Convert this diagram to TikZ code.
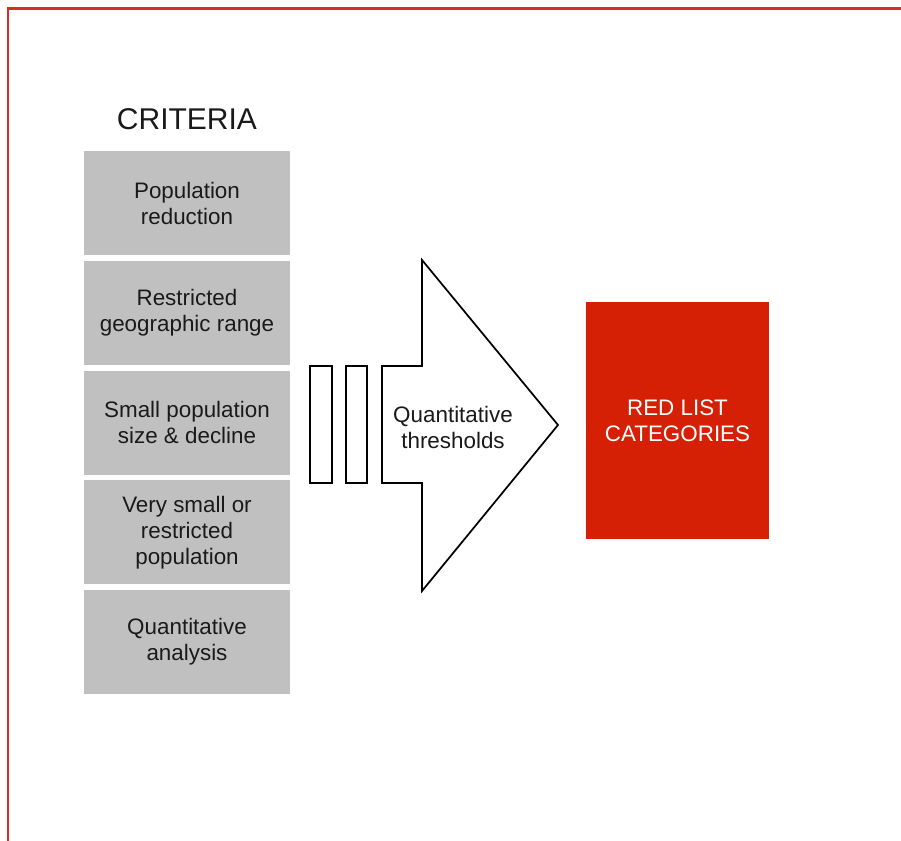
\documentclass[tikz,border=0pt]{standalone}
\usepackage{fontspec}
\setmainfont{Liberation Sans}
\usepackage{tikz}
\usetikzlibrary{calc,positioning,shapes.misc}

\definecolor{frame}{RGB}{218,44,34}
\definecolor{listred}{RGB}{214,32,5}
\definecolor{critgrey}{RGB}{192,192,192}
\definecolor{ink}{RGB}{26,26,26}

\begin{document}
\begin{tikzpicture}[x=0.75pt,y=0.75pt,node distance=3.8pt,line join=miter]
\tikzstyle{critbox}=[fill=critgrey,text=ink,align=center,minimum width=154.5pt,minimum height=78pt,inner sep=0pt,font=\fontsize{16.8}{19.5}\selectfont]
\tikzstyle{outline}=[draw=black,line width=1.3pt,fill=white]
\useasboundingbox (0,0) rectangle (901,-841);
 %frame
 \draw[frame,line width=1.6pt] (8,-841) -- (8,-8.5) -- (901,-8.5);
 %criteria column
 \node[text=ink,font=\fontsize{22.5}{27}\selectfont] at (187,-119.5) (criteria){CRITERIA};
 \node[critbox] at (187,-203.5) (c1){Population\\reduction};
 \node[critbox][below=of c1](c2){Restricted\\geographic range};
 \node[critbox][below=of c2](c3){Small population\\size \& decline};
 \node[critbox][below=of c3](c4){Very small or\\restricted\\population};
 \node[critbox][below=of c4](c5){Quantitative\\analysis};
 %arrow with bars
 \draw[outline] (310,-366) rectangle (332,-483);
 \draw[outline] (346,-366) rectangle (367,-483);
 \draw[outline] (382,-366) -- (422,-366) -- (422,-260) -- (558,-425)
   -- (422,-591) -- (422,-483) -- (382,-483) -- cycle;
 \node[text=ink,align=center,font=\fontsize{16.8}{19.5}\selectfont] at (453,-427) (thresh){Quantitative\\thresholds};
 %categories
 \node[fill=listred,text=white,align=center,minimum width=137.25pt,minimum height=177.75pt,inner sep=0pt,
   font=\fontsize{16.8}{19.5}\selectfont] at (677.5,-420.5) (cats){RED LIST\\CATEGORIES};
\end{tikzpicture}
\end{document}
